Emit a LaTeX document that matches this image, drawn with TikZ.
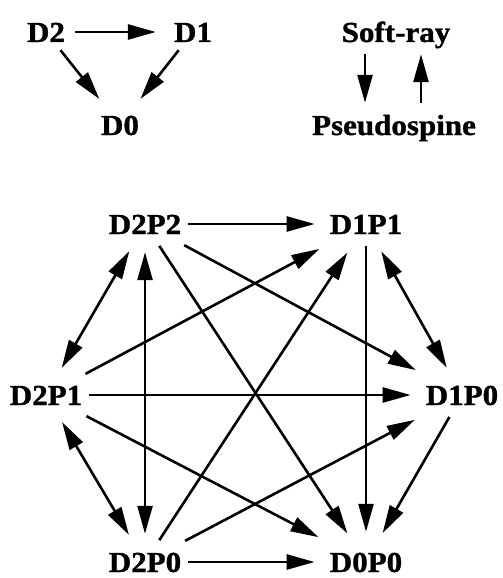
\documentclass[tikz,border=0pt]{standalone}
\usepackage{fontspec}
\setmainfont{Liberation Serif}[FakeStretch=1.07, BoldFeatures={FakeBold=1.2}]
\usetikzlibrary{arrows.meta}
\begin{document}
\begin{tikzpicture}[x=1pt,y=-1pt,
  lab/.style={font=\fontsize{29}{31}\selectfont\bfseries, text height=20pt, text depth=0pt, inner xsep=8pt, inner ysep=8pt},
  hx/.style={lab, inner xsep=5pt, inner ysep=10pt},
  arr/.style={line width=2.6pt, -{Triangle[length=28pt,width=15pt]}, shorten >=10pt, shorten <=2pt},
  darr/.style={line width=2.6pt, {Triangle[length=28pt,width=15pt]}-{Triangle[length=28pt,width=15pt]}, shorten >=8pt, shorten <=8pt}]
\useasboundingbox (0,0) rectangle (503,578);
% top left triangle
\node[lab] (d2) at (46,32) {D2};
\node[lab] (d1) at (193,32) {D1};
\node[lab] (d0) at (120,125) {D0};
\draw[arr] (d2) -- (d1);
\draw[arr, shorten <=0pt] (d2) -- (d0);
\draw[arr, shorten <=0pt] (d1) -- (d0);
% legend
\node[lab, inner ysep=10pt] (soft) at (396,32) {Soft-ray};
\node[lab, inner ysep=10pt] (pseudo) at (394,125) {Pseudospine};
\draw[arr, shorten >=2pt] ([xshift=-31pt]soft.south) -- ([xshift=-29pt]pseudo.north);
\draw[arr, shorten >=2pt] ([xshift=27pt]pseudo.north) -- ([xshift=25pt]soft.south);
% hexagon
\node[hx] (d2p2) at (145,224) {D2P2};
\node[hx] (d1p1) at (366,224) {D1P1};
\node[hx] (d2p1) at (46,395) {D2P1};
\node[hx] (d1p0) at (462,395) {D1P0};
\node[hx] (d2p0) at (145,562) {D2P0};
\node[hx] (d0p0) at (366,562) {D0P0};
\draw[arr] (d2p2) -- (d1p1);
\draw[arr] (d2p1) -- (d1p0);
\draw[arr] (d2p0) -- (d0p0);
\draw[darr] (d2p2) -- (d2p1);
\draw[darr] (d2p2) -- (d2p0);
\draw[darr] (d1p1) -- (d1p0);
\draw[darr] (d2p1) -- (d2p0);
\draw[arr] (d2p2) -- (d0p0);
\draw[arr] (d2p2) -- (d1p0);
\draw[arr] (d2p1) -- (d1p1);
\draw[arr] (d2p1) -- (d0p0);
\draw[arr] (d2p0) -- (d1p1);
\draw[arr] (d2p0) -- (d1p0);
\draw[arr] (d1p1) -- (d0p0);
\draw[arr] (d1p0) -- (d0p0);
\end{tikzpicture}
\end{document}
